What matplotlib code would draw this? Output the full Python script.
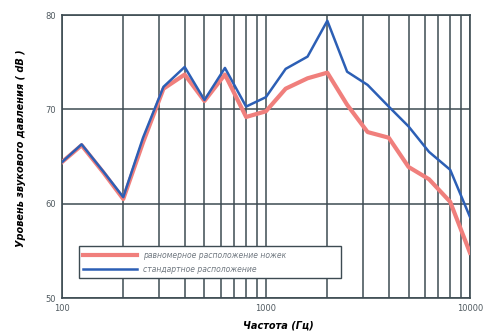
import matplotlib
matplotlib.use("Agg")
import matplotlib.pyplot as plt
from matplotlib.ticker import FixedLocator, NullFormatter, FixedFormatter
import numpy as np

freqs = [100, 125, 160, 200, 250, 315, 400, 500, 630, 800, 1000, 1250, 1600,
         2000, 2500, 3150, 4000, 5000, 6300, 8000, 10000]
red_vals = [64.4, 66.2, 63.3, 60.5, 66.5, 72.2, 73.7, 70.9, 73.7, 69.2, 69.8,
            72.2, 73.3, 73.9, 70.5, 67.6, 67.0, 63.9, 62.6, 60.2, 54.8]
blue_vals = [64.4, 66.3, 63.4, 60.7, 67.0, 72.4, 74.5, 71.0, 74.4, 70.3, 71.3,
             74.3, 75.6, 79.4, 74.0, 72.6, 70.3, 68.2, 65.5, 63.6, 58.6]
label_red = "равномерное расположение ножек"
label_blue = "стандартное расположение"
yticks = [50, 60, 70, 80]
xticks_major = [100, 1000, 10000]
xtick_labels = ["100", "1000", "10000"]

fig = plt.figure(figsize=(4.83, 3.36), dpi=100)
ax = fig.add_axes([0.128, 0.113, 0.845, 0.842])

ax.set_xscale("log")
ax.set_xlim(100, 10000)
ax.set_ylim(50, 80)

grid_c = "#3d4b52"
ax.xaxis.set_major_locator(FixedLocator(xticks_major))
ax.xaxis.set_major_formatter(FixedFormatter(xtick_labels))
minor = [m * d for d in (100, 1000) for m in range(2, 10)]
ax.xaxis.set_minor_locator(FixedLocator(minor))
ax.xaxis.set_minor_formatter(NullFormatter())
ax.set_yticks(yticks)
ax.grid(True, which="both", axis="x", color=grid_c, lw=1.1)
ax.grid(True, which="major", axis="y", color=grid_c, lw=1.1)
ax.set_axisbelow(True)

ax.plot(freqs, red_vals, color="#f07f7c", lw=3.0, label=label_red,
        solid_joinstyle="round", zorder=3)
ax.plot(freqs, blue_vals, color="#2c5fb5", lw=1.8, label=label_blue,
        solid_joinstyle="round", zorder=4)

for s in ax.spines.values():
    s.set_color(grid_c)
    s.set_linewidth(1.2)
ax.tick_params(axis="both", which="both", length=0, labelsize=6,
               labelcolor="#505a60", pad=4)

leg = ax.legend(loc="lower left", bbox_to_anchor=(0.032, 0.057, 0.662, 0.137),
                mode="expand", frameon=True, fancybox=False,
                handlelength=7, borderpad=0.6, labelspacing=0.6,
                prop={"style": "italic", "size": 5.5})
leg.get_frame().set_edgecolor(grid_c)
leg.get_frame().set_linewidth(1.0)
leg.get_frame().set_alpha(1)
for t in leg.get_texts():
    t.set_color("#707880")

ax.set_xlabel("Частота (Гц)", fontsize=7, fontweight="bold", style="italic",
              labelpad=6, x=0.53)
ax.set_ylabel("Уровень звукового давления ( dB )", fontsize=7,
              fontweight="bold", style="italic", labelpad=14, y=0.53)

fig.savefig("out.png", dpi=100)
